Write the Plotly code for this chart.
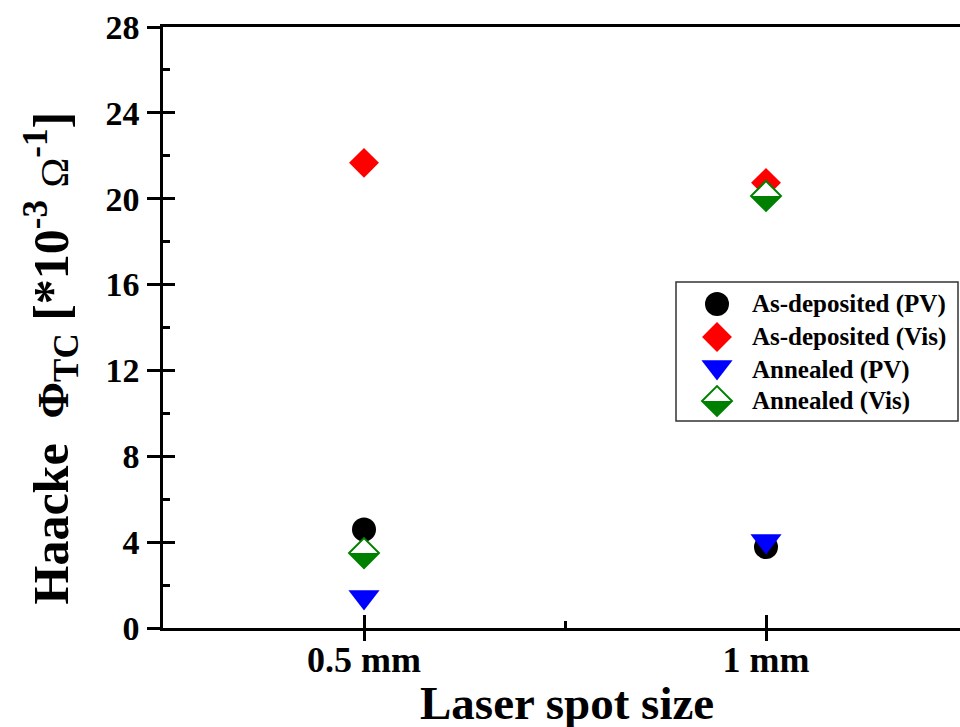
import plotly.graph_objects as go

# ---- data ----
spot_sizes = ["0.5 mm", "1 mm"]
spot_pos = [1, 2]
as_dep_pv = [4.59, 3.77]
as_dep_vis = [21.67, 20.74]
annealed_pv = [1.44, 4.05]
annealed_vis = [3.49, 20.13]
y_ticks = [0, 4, 8, 12, 16, 20, 24, 28]
y_minor = [2, 6, 10, 14, 18, 22, 26]
x_minor = [1.5]
legend_names = ["As-deposited (PV)", "As-deposited (Vis)", "Annealed (PV)", "Annealed (Vis)"]

# ---- layout geometry ----
W, H = 960, 727
ML, MR, MT, MB = 163, 0, 27, 99
PW, PH = W - ML - MR, H - MT - MB
PX_PER_CAT = 402
x_range = [0.5, 0.5 + PW / PX_PER_CAT]
y_range = [0, 28]
dx_px = (x_range[1] - x_range[0]) / PW   # data units per pixel
dy_px = (y_range[1] - y_range[0]) / PH

FONT = "Liberation Serif"
BLACK, RED, BLUE, GREEN = "#000000", "#ff0000", "#0000ff", "#008000"
DIAMOND_SIZE = 23          # plotly diamond half-diagonal = 0.65 * size
HALF_PX = 0.65 * DIAMOND_SIZE
LINE_W = 2.5

fig = go.Figure()


def half_diamond(xc, yc, hx, hy):
    """Closed polygon for the lower half of a diamond centred on (xc, yc)."""
    xs, ys = [], []
    for x, y in zip(xc, yc):
        xs += [x - hx, x + hx, x, x - hx, None]
        ys += [y, y, y - hy, y, None]
    return xs, ys


def add_points(xs, ys, xa, ya, name):
    fig.add_trace(go.Scatter(x=xs, y=ys, mode="markers", xaxis=xa, yaxis=ya, name=name,
                             showlegend=False, hoverinfo="skip",
                             marker=dict(symbol="circle", size=24, color=BLACK, line=dict(width=0))))


def add_vis(xs, ys, xa, ya, name):
    fig.add_trace(go.Scatter(x=xs, y=ys, mode="markers", xaxis=xa, yaxis=ya, name=name,
                             showlegend=False, hoverinfo="skip",
                             marker=dict(symbol="diamond", size=DIAMOND_SIZE, color=RED, line=dict(width=0))))


def add_ann_pv(xs, ys, xa, ya, name):
    fig.add_trace(go.Scatter(x=xs, y=ys, mode="markers", xaxis=xa, yaxis=ya, name=name,
                             showlegend=False, hoverinfo="skip",
                             marker=dict(symbol="triangle-down", size=27, color=BLUE, line=dict(width=0))))


def add_ann_vis(xs, ys, xa, ya, name, hx, hy):
    # white interior, green lower half, green outline
    fig.add_trace(go.Scatter(x=xs, y=ys, mode="markers", xaxis=xa, yaxis=ya, name=name,
                             showlegend=False, hoverinfo="skip",
                             marker=dict(symbol="diamond", size=DIAMOND_SIZE, color="white", line=dict(width=0))))
    px, py = half_diamond(xs, ys, hx, hy)
    fig.add_trace(go.Scatter(x=px, y=py, mode="lines", fill="toself", fillcolor=GREEN,
                             xaxis=xa, yaxis=ya, name=name, showlegend=False, hoverinfo="skip",
                             line=dict(width=0, color=GREEN)))
    fig.add_trace(go.Scatter(x=xs, y=ys, mode="markers", xaxis=xa, yaxis=ya, name=name,
                             showlegend=False, hoverinfo="skip",
                             marker=dict(symbol="diamond-open", size=DIAMOND_SIZE, color=GREEN,
                                         line=dict(width=2, color=GREEN))))


# ---- data marks ----
add_points(spot_pos, as_dep_pv, "x", "y", legend_names[0])
add_vis(spot_pos, as_dep_vis, "x", "y", legend_names[1])
add_ann_pv(spot_pos, annealed_pv, "x", "y", legend_names[2])
add_ann_vis(spot_pos, annealed_vis, "x", "y", legend_names[3], HALF_PX * dx_px, HALF_PX * dy_px)

# helper traces so the inner-tick overlay axes are drawn
fig.add_trace(go.Scatter(x=[None], y=[None], xaxis="x2", yaxis="y", showlegend=False, hoverinfo="skip"))
fig.add_trace(go.Scatter(x=[None], y=[None], xaxis="x", yaxis="y2", showlegend=False, hoverinfo="skip"))

# ---- legend (drawn on a unit-square overlay axis pair spanning the plot area) ----
leg_sym_x = (717 - ML) / PW
leg_txt_x = (750 - ML) / PW
leg_rows = [(MT + PH - py) / PH for py in (304, 337, 367, 401)]
add_points([leg_sym_x], [leg_rows[0]], "x3", "y3", legend_names[0])
add_vis([leg_sym_x], [leg_rows[1]], "x3", "y3", legend_names[1])
add_ann_pv([leg_sym_x], [leg_rows[2]], "x3", "y3", legend_names[2])
add_ann_vis([leg_sym_x], [leg_rows[3]], "x3", "y3", legend_names[3], HALF_PX / PW, HALF_PX / PH)

annotations = []
for name, ry in zip(legend_names, (304, 337, 370, 401)):
    annotations.append(dict(text=name, x=leg_txt_x, y=(MT + PH - ry) / PH, xref="paper", yref="paper",
                            xanchor="left", yanchor="middle", showarrow=False,
                            font=dict(family=FONT, size=25, color=BLACK, weight="bold")))

# axis titles
annotations.append(dict(text="Laser spot size", x=(567 - ML) / PW, y=(MT + PH - 703) / PH,
                        xref="paper", yref="paper", xanchor="center", yanchor="middle",
                        showarrow=False, font=dict(family=FONT, size=47, color=BLACK, weight="bold")))
annotations.append(dict(
    text=("Haacke  <span style='font-size:44px'>Φ</span><sub>TC</sub> [*10<sup>-3</sup> "
          "<span style='font-weight:normal;font-size:40px'>Ω</span><sup>-1</sup>]"),
    x=(51 - ML) / PW, y=(MT + PH - 607) / PH, xref="paper", yref="paper",
    xanchor="center", yanchor="bottom", textangle=-90, showarrow=False,
    font=dict(family=FONT, size=50, color=BLACK, weight="bold")))

shapes = [dict(type="rect", xref="paper", yref="paper",
               x0=(676 - ML) / PW, x1=(958 - ML) / PW,
               y0=(MT + PH - 421) / PH, y1=(MT + PH - 282) / PH,
               line=dict(color="#333333", width=1.5), fillcolor="rgba(0,0,0,0)", layer="above")]

tick_style = dict(showgrid=False, zeroline=False, tickcolor=BLACK, tickwidth=LINE_W)

fig.update_layout(
    width=W, height=H, margin=dict(l=ML, r=MR, t=MT, b=MB, pad=0),
    paper_bgcolor="white", plot_bgcolor="white", showlegend=False,
    annotations=annotations, shapes=shapes,
    # outer ticks + frame lines
    xaxis=dict(range=x_range, tickmode="array", tickvals=spot_pos,
               ticks="outside", ticklen=10, showticklabels=False,
               showline=True, mirror=True, linecolor=BLACK, linewidth=LINE_W, **tick_style),
    yaxis=dict(range=y_range, tickmode="array", tickvals=y_ticks,
               ticks="outside", ticklen=13, showline=True, mirror=False,
               linecolor=BLACK, linewidth=LINE_W,
               tickfont=dict(family=FONT, size=34, color=BLACK, weight="bold"),
               ticklabelstandoff=1, **tick_style),
    # inner ticks (and the category labels)
    xaxis2=dict(range=x_range, overlaying="x", anchor="y", side="bottom", showline=False,
                tickmode="array", tickvals=spot_pos, ticktext=spot_sizes,
                ticks="inside", ticklen=13,
                tickfont=dict(family=FONT, size=36, color=BLACK, weight="bold"),
                ticklabelstandoff=7,
                minor=dict(tickmode="array", tickvals=x_minor, ticks="inside", ticklen=7,
                           tickwidth=LINE_W, tickcolor=BLACK),
                **tick_style),
    yaxis2=dict(range=y_range, overlaying="y", anchor="x", side="left", showline=False,
                tickmode="array", tickvals=y_ticks, ticks="inside", ticklen=12,
                showticklabels=False,
                minor=dict(tickmode="array", tickvals=y_minor, ticks="inside", ticklen=7,
                           tickwidth=LINE_W, tickcolor=BLACK),
                **tick_style),
    xaxis3=dict(overlaying="x", range=[0, 1], anchor="y3", visible=False, fixedrange=True),
    yaxis3=dict(overlaying="y", range=[0, 1], anchor="x3", visible=False, fixedrange=True),
)

fig.write_html("out.html")
